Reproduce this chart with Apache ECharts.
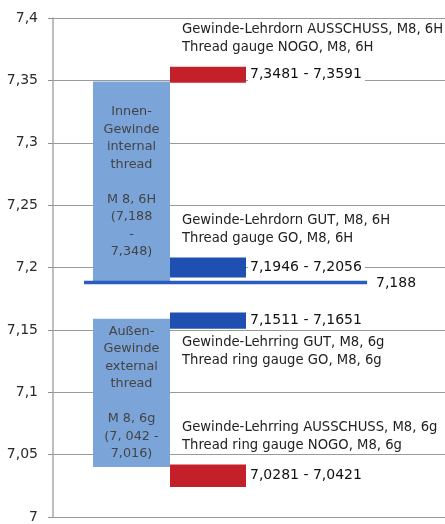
<!DOCTYPE html>
<html>
<head>
<meta charset="utf-8">
<script src="https://cdn.jsdelivr.net/npm/echarts@6/dist/echarts.min.js"></script>
<style>
  html, body { margin: 0; padding: 0; background: #fff; }
  #chart { width: 445px; height: 524px; }
</style>
</head>
<body>
<div id="chart"></div>
<script>
// Toleranzfelder Gewinde (innen / aussen)
const zoneLow = [7.188, 7.04];
const zoneHigh = [7.349, 7.159];
const zoneText = [
  'Innen-\nGewinde\ninternal\nthread\n\nM 8, 6H\n(7,188\n-\n7,348)',
  'Außen-\nGewinde\nexternal\nthread\n\nM 8, 6g\n(7, 042 -\n7,016)'
];

// Lehren (Gut / Ausschuss)
const gaugeLow = [7.348, 7.192, 7.151, 7.024];
const gaugeHigh = [7.361, 7.208, 7.164, 7.042];
const gaugeRange = ['7,3481 - 7,3591', '7,1946 - 7,2056', '7,1511 - 7,1651', '7,0281 - 7,0421'];
const gaugeName = [
  ['Gewinde-Lehrdorn AUSSCHUSS, M8, 6H', 'Thread gauge NOGO, M8, 6H'],
  ['Gewinde-Lehrdorn GUT, M8, 6H', 'Thread gauge GO, M8, 6H'],
  ['Gewinde-Lehrring GUT, M8, 6g', 'Thread ring gauge GO, M8, 6g'],
  ['Gewinde-Lehrring AUSSCHUSS, M8, 6g', 'Thread ring gauge NOGO, M8, 6g']
];
const gaugeKind = ['nogo', 'go', 'go', 'nogo'];
const nameBelow = [false, false, true, false];

// Mindestmass
const minValue = 7.188;
const minLabel = '7,188';

// Achse
const yMin = 7.0;
const yMax = 7.4;
const yStep = 0.05;

const FONT = '"DejaVu Sans", Arial, sans-serif';
const kindColor = { go: '#1f4fb0', nogo: '#c4202a' };

function renderZone(params, api) {
  const i = params.dataIndex;
  const cs = params.coordSys;
  const yTop = api.coord([0, api.value(1)])[1];
  const yBot = api.coord([0, api.value(0)])[1];
  const x = cs.x + 40, w = 77;
  return {
    type: 'group',
    children: [
      { type: 'rect', shape: { x: x, y: yTop, width: w, height: yBot - yTop }, style: { fill: '#7ba4d8' } },
      {
        type: 'text',
        style: {
          text: zoneText[i], x: x + w / 2, y: (yTop + yBot) / 2,
          align: 'center', verticalAlign: 'middle',
          fontFamily: FONT, fontSize: 12.8, lineHeight: 17.5, fill: '#444'
        }
      }
    ]
  };
}

function renderGauge(params, api) {
  const i = params.dataIndex;
  const cs = params.coordSys;
  const yTop = api.coord([0, api.value(1)])[1];
  const yBot = api.coord([0, api.value(0)])[1];
  const x = cs.x + 117, w = 76;
  const l1 = nameBelow[i] ? yBot + 14 : yTop - 37;
  return {
    type: 'group',
    children: [
      {
        type: 'text',
        style: {
          text: gaugeName[i][0] + '\n' + gaugeName[i][1], x: x + 12, y: l1 - 9,
          align: 'left', verticalAlign: 'top',
          fontFamily: FONT, fontSize: 13.2, lineHeight: 18, fill: '#222'
        }
      },
      { type: 'rect', shape: { x: x, y: yTop, width: w, height: yBot - yTop }, style: { fill: kindColor[gaugeKind[i]] } },
      {
        type: 'text',
        style: {
          text: gaugeRange[i], x: x + w + 2, y: (yTop + yBot) / 2,
          align: 'left', verticalAlign: 'middle',
          fontFamily: FONT, fontSize: 14, fill: '#111',
          backgroundColor: '#fff', padding: [1, 3, 1, 2]
        }
      }
    ]
  };
}

function renderMinLine(params, api) {
  const cs = params.coordSys;
  const y = api.coord([0, api.value(0)])[1];
  const x0 = cs.x + 31, x1 = cs.x + 314;
  return {
    type: 'group',
    children: [
      { type: 'line', shape: { x1: x0, y1: y, x2: x1, y2: y }, style: { stroke: '#2a5cbf', lineWidth: 3.5 } },
      {
        type: 'text',
        style: {
          text: minLabel, x: x1 + 9, y: y + 1,
          align: 'left', verticalAlign: 'middle',
          fontFamily: FONT, fontSize: 14, fill: '#111'
        }
      }
    ]
  };
}

const chart = echarts.init(document.getElementById('chart'), null, { renderer: 'canvas' });

chart.setOption({
  animation: false,
  backgroundColor: '#fff',
  grid: { left: 53, right: 0, top: 18, height: 505, containLabel: false },
  xAxis: { type: 'value', min: 0, max: 1, show: false },
  yAxis: {
    type: 'value',
    min: yMin,
    max: yMax,
    interval: yStep,
    axisLine: { show: true, lineStyle: { color: '#a8a8a8', width: 1.5 } },
    axisTick: { show: true, length: 5, lineStyle: { color: '#909090' } },
    axisLabel: {
      margin: 15,
      color: '#2a2a2a',
      fontFamily: FONT,
      fontSize: 14,
      formatter: v => String(+v.toFixed(2)).replace('.', ',')
    },
    splitLine: { show: true, lineStyle: { color: '#9a9a9a', width: 1 } }
  },
  series: [
    {
      type: 'custom',
      renderItem: renderZone,
      data: zoneLow.map((v, i) => [v, zoneHigh[i]]),
      encode: { y: [0, 1] }
    },
    {
      type: 'custom',
      renderItem: renderGauge,
      data: gaugeLow.map((v, i) => [v, gaugeHigh[i]]),
      encode: { y: [0, 1] }
    },
    {
      type: 'custom',
      renderItem: renderMinLine,
      data: [[minValue]],
      encode: { y: 0 }
    }
  ]
});
</script>
</body>
</html>
